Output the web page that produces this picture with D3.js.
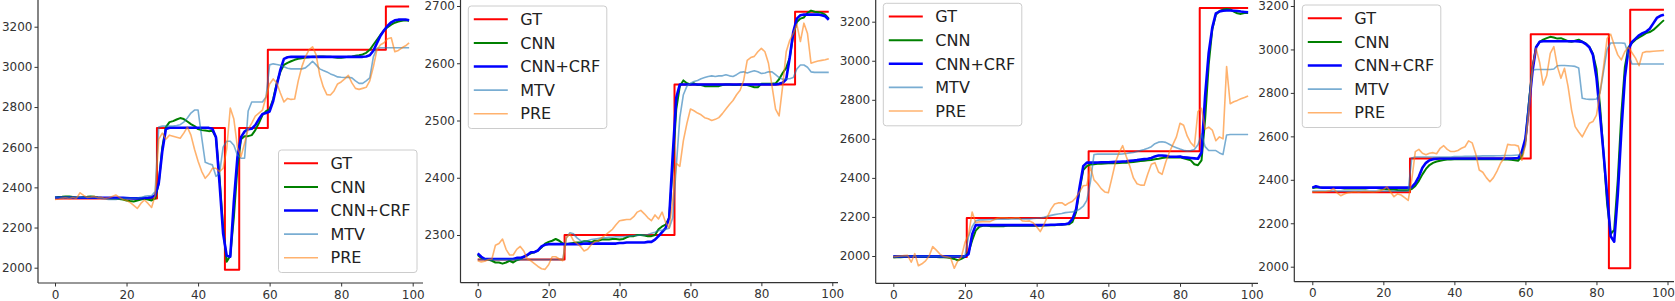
<!DOCTYPE html>
<html>
<head>
<meta charset="utf-8">
<script src="https://cdn.jsdelivr.net/npm/d3@7"></script>
<style>
  body { margin: 0; background: #fff; }
  svg { display: block; font-family: "DejaVu Sans", sans-serif; }
</style>
</head>
<body>
<svg width="1675" height="301"></svg>
<script>
// ---- data (one value per time step 0..99) ----

const seriesNames = ['GT', 'CNN', 'CNN+CRF', 'MTV', 'PRE'];
const xTicks = [0, 20, 40, 60, 80, 100];
const yTicksWide = [2000, 2200, 2400, 2600, 2800, 3000, 3200];
const yTicksNarrow = [2300, 2400, 2500, 2600, 2700];

// panel 1
const gt1 = [
	2345,2345,2345,2345,2345,2345,2345,2345,2345,2345,
	2345,2345,2345,2345,2345,2345,2345,2345,2345,2345,
	2345,2345,2345,2345,2345,2345,2345,2345,2345,2695,
	2695,2695,2695,2695,2695,2695,2695,2695,2695,2695,
	2695,2695,2695,2695,2695,2695,2695,2695,1990,1990,
	1990,1990,2695,2695,2695,2695,2695,2695,2695,2695,
	3085,3085,3085,3085,3085,3085,3085,3085,3085,3085,
	3085,3085,3085,3085,3085,3085,3085,3085,3085,3085,
	3085,3085,3085,3085,3085,3085,3085,3085,3085,3085,
	3085,3085,3085,3300,3300,3300,3300,3300,3300,3300];
const cnn1 = [
	2350,2352,2353,2355,2354,2352,2350,2350,2352,2353,
	2355,2353,2350,2348,2347,2346,2345,2344,2342,2340,
	2335,2332,2330,2335,2340,2343,2340,2335,2345,2420,
	2600,2700,2725,2730,2738,2745,2740,2728,2715,2705,
	2690,2685,2683,2680,2682,2650,2450,2200,2030,2060,
	2250,2500,2640,2655,2655,2660,2685,2720,2760,2780,
	2790,2840,2920,2975,3010,3020,3028,3035,3040,3043,
	3046,3048,3050,3050,3052,3052,3050,3050,3048,3045,
	3045,3048,3050,3052,3055,3058,3062,3070,3085,3110,
	3135,3160,3182,3198,3210,3220,3226,3230,3232,3230];
const crf1 = [
	2348,2348,2348,2348,2348,2348,2348,2348,2348,2348,
	2348,2348,2348,2348,2348,2348,2348,2348,2348,2348,
	2347,2346,2345,2345,2346,2347,2348,2350,2360,2420,
	2580,2690,2697,2697,2697,2697,2697,2697,2697,2697,
	2697,2697,2697,2696,2692,2650,2420,2170,2060,2055,
	2330,2550,2650,2678,2690,2692,2710,2740,2765,2770,
	2778,2830,2910,2985,3040,3048,3050,3050,3050,3050,
	3050,3050,3050,3050,3050,3050,3050,3050,3050,3050,
	3050,3050,3050,3050,3050,3050,3050,3052,3058,3080,
	3118,3155,3182,3205,3222,3232,3235,3236,3236,3232];
const mtv1 = [
	2348,2350,2350,2350,2350,2350,2350,2350,2350,2350,
	2350,2350,2348,2345,2342,2340,2340,2340,2342,2345,
	2345,2345,2345,2347,2350,2355,2358,2358,2380,2700,
	2705,2705,2705,2705,2708,2712,2725,2745,2770,2785,
	2785,2650,2525,2518,2512,2455,2470,2600,2630,2630,
	2610,2560,2545,2545,2780,2825,2825,2825,2825,2850,
	3010,3015,3012,3008,3000,2993,2990,2990,2990,2990,
	2995,3010,3028,3010,2990,2982,2975,2965,2958,2950,
	2948,2947,2948,2945,2930,2918,2918,2930,2945,3050,
	3092,3095,3095,3095,3095,3095,3095,3095,3095,3095];
const pre1 = [
	2340,2342,2345,2348,2343,2350,2345,2373,2360,2350,
	2352,2355,2348,2350,2345,2348,2355,2362,2350,2340,
	2335,2325,2310,2295,2320,2337,2320,2300,2360,2640,
	2670,2640,2660,2655,2650,2645,2670,2700,2660,2590,
	2530,2480,2445,2465,2495,2495,2478,2495,2590,2795,
	2740,2600,2553,2620,2690,2720,2755,2770,2785,2850,
	2915,2940,2920,2870,2825,2843,2838,2840,2930,3000,
	3050,3085,3100,3060,2960,2900,2862,2860,2880,2915,
	2925,2940,2958,2920,2893,2888,2893,2898,2930,3000,
	3085,3110,3120,3140,3145,3075,3082,3095,3105,3120];

// panel 2
const gt2 = [
	2257,2257,2257,2257,2257,2257,2257,2257,2257,2257,
	2257,2257,2257,2257,2257,2257,2257,2257,2257,2257,
	2257,2257,2257,2257,2257,2300,2300,2300,2300,2300,
	2300,2300,2300,2300,2300,2300,2300,2300,2300,2300,
	2300,2300,2300,2300,2300,2300,2300,2300,2300,2300,
	2300,2300,2300,2300,2300,2300,2563,2563,2563,2563,
	2563,2563,2563,2563,2563,2563,2563,2563,2563,2563,
	2563,2563,2563,2563,2563,2563,2563,2563,2563,2563,
	2563,2563,2563,2563,2563,2563,2563,2563,2563,2563,
	2690,2690,2690,2690,2690,2690,2690,2690,2690,2690];
const cnn2 = [
	2265,2260,2258,2257,2255,2252,2252,2250,2252,2255,
	2252,2256,2258,2262,2265,2268,2270,2273,2278,2285,
	2288,2290,2293,2290,2285,2284,2285,2286,2287,2287,
	2289,2289,2287,2290,2290,2292,2292,2292,2293,2293,
	2292,2293,2296,2298,2298,2300,2300,2299,2298,2298,
	2300,2310,2315,2318,2330,2420,2520,2560,2570,2565,
	2563,2565,2562,2562,2560,2560,2560,2560,2560,2562,
	2563,2563,2562,2562,2563,2562,2562,2560,2558,2558,
	2564,2564,2564,2564,2565,2572,2583,2592,2610,2650,
	2672,2678,2680,2688,2692,2690,2689,2688,2685,2678];
const crf2 = [
	2268,2262,2258,2258,2258,2258,2258,2258,2258,2258,
	2258,2260,2260,2262,2265,2270,2270,2273,2280,2283,
	2284,2284,2284,2284,2284,2284,2284,2284,2284,2284,
	2285,2285,2285,2285,2285,2285,2285,2285,2285,2285,
	2286,2286,2287,2287,2287,2287,2287,2287,2288,2288,
	2292,2298,2305,2312,2330,2440,2540,2563,2563,2563,
	2563,2563,2563,2563,2563,2563,2563,2563,2563,2563,
	2563,2563,2563,2563,2563,2563,2563,2563,2563,2563,
	2563,2563,2563,2563,2563,2564,2566,2572,2610,2655,
	2678,2684,2685,2685,2685,2685,2685,2684,2682,2676];
const mtv2 = [
	2257,2257,2257,2257,2257,2257,2257,2257,2257,2257,
	2257,2257,2257,2257,2257,2257,2257,2257,2257,2257,
	2257,2257,2257,2257,2257,2295,2304,2302,2295,2290,
	2288,2290,2292,2293,2294,2295,2295,2296,2296,2297,
	2297,2297,2298,2298,2299,2299,2300,2300,2301,2303,
	2305,2308,2308,2310,2312,2330,2420,2505,2545,2560,
	2565,2568,2570,2573,2575,2577,2578,2577,2578,2578,
	2580,2578,2577,2580,2584,2585,2583,2585,2587,2585,
	2582,2583,2585,2585,2580,2575,2572,2573,2573,2575,
	2590,2597,2597,2593,2585,2584,2584,2584,2584,2584];
const pre2 = [
	2255,2253,2254,2257,2258,2282,2285,2293,2275,2265,
	2265,2275,2280,2272,2258,2255,2250,2245,2241,2240,
	2248,2262,2262,2258,2255,2295,2302,2290,2285,2280,
	2272,2275,2283,2288,2290,2295,2300,2305,2310,2318,
	2325,2326,2327,2327,2332,2340,2343,2337,2330,2325,
	2335,2328,2340,2322,2312,2360,2425,2420,2465,2495,
	2520,2517,2513,2510,2505,2503,2500,2502,2505,2512,
	2520,2528,2535,2545,2553,2570,2605,2610,2612,2620,
	2626,2620,2600,2560,2520,2508,2560,2620,2640,2652,
	2668,2638,2670,2652,2600,2602,2604,2605,2606,2608];

// panel 3
const gt3 = [
	1995,1995,1995,1995,1995,1995,1995,1995,1995,1995,
	1995,1995,1995,1995,1995,1995,1995,1995,1995,1995,
	1995,2195,2195,2195,2195,2195,2195,2195,2195,2195,
	2195,2195,2195,2195,2195,2195,2195,2195,2195,2195,
	2195,2195,2195,2195,2195,2195,2195,2195,2195,2195,
	2195,2195,2195,2195,2195,2537,2537,2537,2537,2537,
	2537,2537,2537,2537,2537,2537,2537,2537,2537,2537,
	2537,2537,2537,2537,2537,2537,2537,2537,2537,2537,
	2537,2537,2537,2537,2537,2537,3270,3270,3270,3270,
	3270,3270,3270,3270,3270,3270,3270,3270,3270,3270];
const cnn3 = [
	1992,1993,1994,1995,1997,2000,1998,1996,1995,1995,
	1995,1996,1995,1994,1993,1992,1990,1985,1978,1985,
	1995,2020,2080,2130,2150,2155,2155,2153,2153,2153,
	2153,2153,2155,2155,2155,2155,2155,2155,2155,2155,
	2155,2155,2156,2157,2157,2158,2160,2160,2162,2162,
	2175,2225,2340,2440,2460,2468,2470,2472,2473,2474,
	2475,2475,2475,2476,2477,2478,2480,2482,2484,2486,
	2488,2490,2492,2495,2498,2502,2505,2506,2505,2505,
	2505,2500,2495,2490,2470,2465,2490,2700,2980,3160,
	3235,3255,3262,3265,3263,3252,3243,3240,3244,3245];
const crf3 = [
	1998,1998,1998,1998,1998,1998,1998,1998,1998,1998,
	1998,1998,1998,1998,1998,1998,1998,1998,1998,1998,
	1998,2010,2110,2158,2158,2158,2158,2158,2158,2158,
	2158,2158,2158,2158,2158,2158,2158,2158,2158,2158,
	2158,2158,2159,2159,2160,2160,2161,2162,2163,2168,
	2190,2240,2355,2460,2478,2478,2478,2479,2480,2480,
	2480,2481,2482,2483,2484,2485,2487,2489,2491,2494,
	2496,2498,2502,2510,2515,2515,2513,2510,2508,2508,
	2510,2505,2504,2502,2500,2498,2530,2820,3040,3170,
	3243,3252,3256,3257,3257,3256,3255,3252,3250,3248];
const mtv3 = [
	1998,1998,1998,1998,1998,1998,1998,1998,1998,1998,
	1998,1998,1998,1998,1997,1997,1997,1998,1998,1998,
	2000,2100,2150,2180,2185,2185,2186,2187,2187,2188,
	2188,2189,2189,2190,2190,2190,2190,2190,2190,2192,
	2193,2195,2198,2203,2208,2212,2215,2218,2222,2224,
	2226,2230,2240,2255,2285,2380,2520,2522,2522,2522,
	2522,2522,2522,2522,2523,2525,2528,2530,2535,2540,
	2545,2552,2560,2575,2583,2585,2582,2572,2562,2555,
	2548,2542,2538,2540,2545,2570,2625,2560,2540,2540,
	2540,2528,2520,2620,2622,2622,2622,2622,2622,2622];
const pre3 = [
	1996,1998,2000,2002,2003,1968,2012,1950,1960,1975,
	2000,2048,2030,2010,1998,1995,1990,1937,1975,1995,
	2070,2110,2225,2170,2175,2176,2176,2176,2185,2193,
	2196,2196,2194,2193,2196,2196,2180,2178,2180,2170,
	2150,2125,2160,2200,2240,2266,2272,2273,2260,2272,
	2280,2300,2330,2360,2362,2457,2390,2370,2345,2328,
	2324,2400,2480,2530,2565,2510,2460,2400,2370,2363,
	2362,2420,2470,2478,2430,2418,2480,2530,2570,2610,
	2680,2670,2615,2580,2560,2740,2756,2650,2660,2645,
	2590,2610,2600,2970,2780,2790,2797,2805,2812,2820];

// panel 4
const gt4 = [
	2343,2343,2343,2343,2343,2343,2343,2343,2343,2343,
	2343,2343,2343,2343,2343,2343,2343,2343,2343,2343,
	2343,2343,2343,2343,2343,2343,2343,2343,2498,2498,
	2498,2498,2498,2498,2498,2498,2498,2498,2498,2498,
	2498,2498,2498,2498,2498,2498,2498,2498,2498,2498,
	2498,2498,2498,2498,2498,2498,2498,2498,2498,2498,
	2498,2498,3070,3070,3070,3070,3070,3070,3070,3070,
	3070,3070,3070,3070,3070,3070,3070,3070,3070,3070,
	3070,3070,3070,3070,1993,1993,1993,1993,1993,1993,
	3183,3183,3183,3183,3183,3183,3183,3183,3183,3183];
const cnn4 = [
	2362,2365,2364,2362,2362,2362,2362,2362,2362,2360,
	2360,2360,2360,2360,2360,2360,2362,2362,2362,2360,
	2358,2356,2355,2355,2353,2352,2352,2353,2358,2372,
	2395,2425,2450,2468,2478,2484,2488,2491,2493,2494,
	2495,2495,2495,2495,2495,2495,2495,2495,2495,2495,
	2495,2495,2495,2495,2494,2493,2492,2490,2488,2510,
	2580,2760,2920,3010,3035,3045,3052,3058,3055,3050,
	3052,3045,3038,3035,3040,3045,3036,3028,3012,2980,
	2910,2740,2520,2290,2150,2170,2400,2700,2920,3010,
	3030,3045,3055,3065,3075,3080,3090,3105,3120,3135];
const crf4 = [
	2364,2370,2366,2364,2364,2364,2364,2364,2364,2364,
	2364,2364,2364,2364,2364,2364,2364,2364,2364,2364,
	2364,2364,2364,2364,2364,2364,2364,2364,2366,2385,
	2415,2455,2478,2490,2495,2497,2498,2498,2498,2498,
	2498,2498,2498,2498,2498,2498,2498,2498,2498,2498,
	2498,2498,2498,2498,2498,2498,2498,2499,2500,2530,
	2590,2740,2900,3010,3035,3038,3038,3038,3038,3038,
	3038,3038,3038,3038,3038,3037,3035,3025,3010,2975,
	2870,2700,2520,2330,2140,2115,2330,2620,2870,3000,
	3035,3050,3065,3075,3082,3095,3120,3145,3155,3160];
const mtv4 = [
	2348,2348,2348,2348,2348,2348,2348,2348,2348,2348,
	2348,2348,2348,2348,2348,2348,2348,2348,2348,2348,
	2348,2348,2348,2348,2348,2348,2348,2348,2500,2505,
	2505,2505,2505,2505,2505,2505,2505,2505,2505,2505,
	2507,2507,2507,2508,2508,2508,2509,2509,2510,2510,
	2510,2510,2511,2511,2512,2512,2512,2513,2514,2515,
	2560,2770,2905,2908,2908,2908,2908,2908,2910,2925,
	2926,2926,2925,2924,2922,2915,2775,2772,2770,2770,
	2772,2800,2900,3000,3030,3030,3030,3030,3028,2975,
	2933,2933,2933,2933,2933,2933,2933,2933,2933,2933];
const pre4 = [
	2344,2344,2345,2345,2346,2350,2360,2340,2327,2335,
	2340,2343,2345,2343,2345,2346,2345,2344,2345,2348,
	2355,2368,2345,2322,2335,2330,2318,2305,2400,2530,
	2540,2522,2515,2522,2525,2520,2545,2557,2540,2530,
	2530,2535,2545,2552,2579,2570,2520,2445,2435,2410,
	2391,2410,2440,2476,2500,2563,2560,2560,2555,2490,
	2560,2720,2920,3005,2940,2836,2880,2982,3013,2921,
	2867,2913,2830,2721,2645,2620,2598,2630,2660,2668,
	2698,2800,2921,3050,3070,3020,2975,2952,2990,3010,
	2985,2960,2925,2985,2990,2990,2992,2993,2994,2995];

// ---- styling / layout ----

const lineStyle = {
	'GT':      { color: '#ff0000', width: 2,   opacity: 1 },
	'CNN':     { color: '#008000', width: 2,   opacity: 1 },
	'CNN+CRF': { color: '#0000ff', width: 2.6, opacity: 1 },
	'MTV':     { color: '#1f77b4', width: 1.6, opacity: 0.6 },
	'PRE':     { color: '#ff7f0e', width: 1.6, opacity: 0.6 }
};

// pixel geometry of each subplot (where x=0 / x=100 sit, spines, legend corner)
const panels = [
	{ data: [gt1, cnn1, crf1, mtv1, pre1], yTicks: yTicksWide,
	  x0: 55, x100: 412.7, left: 38, right: 423, bottom: 283,
	  yDomain: [2000, 3200], yRange: [267.7, 26.7], legend: [278.5, 150] },
	{ data: [gt2, cnn2, crf2, mtv2, pre2], yTicks: yTicksNarrow,
	  x0: 477.7, x100: 832.3, left: 460.5, right: 838, bottom: 282.7,
	  yDomain: [2300, 2700], yRange: [235, 6], legend: [468.3, 6] },
	{ data: [gt3, cnn3, crf3, mtv3, pre3], yTicks: yTicksWide,
	  x0: 893.3, x100: 1251.7, left: 875.7, right: 1258, bottom: 283.3,
	  yDomain: [2000, 3200], yRange: [256, 21.7], legend: [883.3, 3.3] },
	{ data: [gt4, cnn4, crf4, mtv4, pre4], yTicks: yTicksWide,
	  x0: 1312.3, x100: 1667.5, left: 1294.3, right: 1674, bottom: 281.7,
	  yDomain: [2000, 3200], yRange: [266.7, 6], legend: [1302.3, 5] }
];

const svg = d3.select('svg');
const svgWidth = +svg.attr('width');
const axisColor = '#333';

panels.forEach(p => {
	const xScale = d3.scaleLinear().domain([0, 100]).range([p.x0, p.x100]);
	const yScale = d3.scaleLinear().domain(p.yDomain).range(p.yRange);

	const g = svg.append('g');

	// series, in the order they were plotted
	seriesNames.forEach((name, k) => {
		const st = lineStyle[name];
		const line = d3.line()
			.x((d, i) => xScale(i))
			.y(d => yScale(d))
			.curve(name === 'GT' ? d3.curveStep : d3.curveLinear);
		g.append('path')
			.datum(p.data[k])
			.attr('d', line)
			.attr('fill', 'none')
			.attr('stroke', st.color)
			.attr('stroke-opacity', st.opacity)
			.attr('stroke-width', st.width)
			.attr('stroke-linejoin', 'round');
	});

	// x axis
	const xAxisG = g.append('g')
		.attr('transform', `translate(0, ${p.bottom})`)
		.call(d3.axisBottom(xScale).tickValues(xTicks).tickSize(3.5).tickPadding(3.5).tickSizeOuter(0))
		.call(a => a.select('.domain').remove());

	// y axis
	g.append('g')
		.attr('transform', `translate(${p.left}, 0)`)
		.call(d3.axisLeft(yScale).tickValues(p.yTicks).tickSize(3.5).tickPadding(2).tickFormat(d3.format('d')))
		.call(a => a.select('.domain').remove());

	g.selectAll('.tick line').attr('stroke', axisColor).attr('stroke-width', 1);
	g.selectAll('.tick text')
		.attr('fill', axisColor)
		.attr('font-size', 12)
		.attr('font-family', '"DejaVu Sans", sans-serif');

	// keep the last x label inside the page
	xAxisG.selectAll('.tick text').each(function (d) {
		const over = xScale(d) + this.getBBox().width / 2 - (svgWidth - 0.5);
		if (over > 0) d3.select(this).attr('x', -over);
	});

	// spines (left + bottom only)
	g.append('line')
		.attr('x1', p.left).attr('x2', p.left)
		.attr('y1', 0).attr('y2', p.bottom)
		.attr('stroke', axisColor).attr('stroke-width', 1.2);
	g.append('line')
		.attr('x1', p.left).attr('x2', p.right)
		.attr('y1', p.bottom).attr('y2', p.bottom)
		.attr('stroke', axisColor).attr('stroke-width', 1.2);

	// legend
	const legend = g.append('g')
		.attr('transform', `translate(${p.legend[0]}, ${p.legend[1]})`);

	legend.append('rect')
		.attr('width', 138.5)
		.attr('height', 122.5)
		.attr('rx', 3)
		.attr('fill', '#fff')
		.attr('fill-opacity', 0.8)
		.attr('stroke', '#ccc');

	const item = legend.selectAll('.item')
		.data(seriesNames)
		.enter()
		.append('g')
		.attr('class', 'item')
		.attr('transform', (d, i) => `translate(0, ${13.3 + i * 23.6})`);

	item.append('line')
		.attr('x1', 5.5).attr('x2', 39.5)
		.attr('stroke', d => lineStyle[d].color)
		.attr('stroke-opacity', d => lineStyle[d].opacity)
		.attr('stroke-width', d => lineStyle[d].width);

	item.append('text')
		.attr('x', 52)
		.attr('dy', '0.36em')
		.attr('font-size', 16)
		.attr('fill', '#222')
		.text(d => d);
});
</script>
</body>
</html>
